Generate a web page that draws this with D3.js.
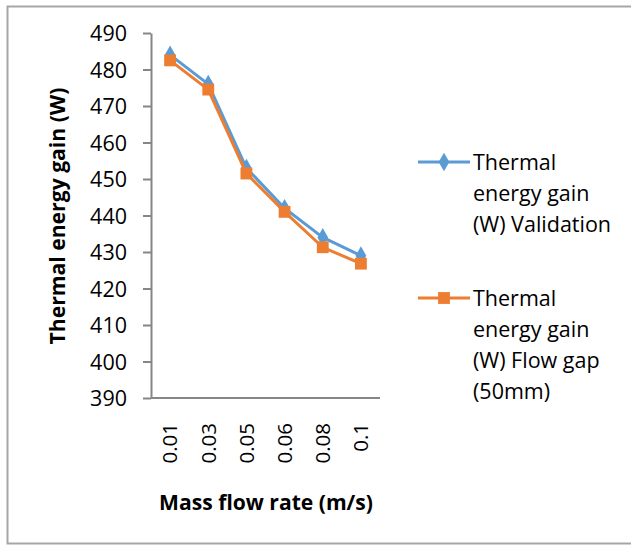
<!DOCTYPE html>
<html>
<head>
  <meta charset="UTF-8">
  <title></title>
  <style>
    body{
      margin: 0;
      background-color: #fff;
      font-family: 'Open Sans', sans-serif;
    }
    .axis path, .axis line{
      stroke: #868686;
      stroke-width: 2px;
    }
    text{
      font-family: 'Open Sans', sans-serif;
      fill: #000;
    }
  </style>
</head>
<body>
  <div id="container"></div>

  <script src="https://d3js.org/d3.v7.min.js"></script>
  <script>

    var rates = ["0.01", "0.03", "0.05", "0.06", "0.08", "0.1"];
    var validation = [484, 476, 453, 442, 434, 429];
    var flowGap = [482.5, 474.5, 451.5, 441, 431.3, 426.8];
    var yTicks = [390, 400, 410, 420, 430, 440, 450, 460, 470, 480, 490];
    var legendValidation = ["Thermal", "energy gain", "(W) Validation"];
    var legendFlowGap = ["Thermal", "energy gain", "(W) Flow gap", "(50mm)"];

    var blue = "#5B9BD5", orange = "#ED7D31";

    var svg = d3.select("#container").append("svg")
      .attr("width", 631)
      .attr("height", 546);

    // squeeze or grow a text's font size until it is the wanted length
    function fitText(sel, target) {
      var fs = parseFloat(sel.style("font-size"));
      var len = sel.node().getComputedTextLength();
      sel.style("font-size", (fs * target / len) + "px");
    }

    // frame round the chart
    svg.append("rect")
      .attr("x", 7.5).attr("y", 6.5)
      .attr("width", 640).attr("height", 537)
      .attr("fill", "none")
      .attr("stroke", "#a6a6a6")
      .attr("stroke-width", 2);

    var x = d3.scaleBand().domain(rates).range([151, 380]).padding(0);
    var y = d3.scaleLinear().domain([390, 490]).range([398, 33]);

    // y axis
    svg.append("g")
      .attr("class", "axis")
      .attr("transform", "translate(151,0)")
      .call(d3.axisLeft(y).tickValues(yTicks).tickSize(8).tickSizeOuter(0).tickPadding(16))
      .selectAll("text")
        .attr("dy", "0.36em")
        .style("font-size", "21.5px")
        .style("font-family", "'Open Sans', sans-serif")
        .attr("fill", "#000");

    // x axis line, no ticks
    svg.append("line")
      .attr("x1", 151).attr("x2", 380)
      .attr("y1", y(390)).attr("y2", y(390))
      .attr("stroke", "#868686").attr("stroke-width", 2);

    // rotated category labels
    svg.append("g").selectAll("text")
      .data(rates).enter().append("text")
      .attr("transform", function(d) {
        return "translate(" + (x(d) + x.bandwidth() / 2) + ",423) rotate(-90)";
      })
      .attr("text-anchor", "end")
      .attr("dy", "0.36em")
      .style("font-size", "20.5px")
      .text(function(d) { return d; });

    // axis titles
    var yTitle = svg.append("text")
      .attr("transform", "translate(58,216) rotate(-90)")
      .attr("text-anchor", "middle")
      .attr("dy", "0.35em")
      .style("font-size", "20px")
      .style("font-weight", "bold")
      .text("Thermal energy gain (W)");
    fitText(yTitle, 257);

    var xTitle = svg.append("text")
      .attr("x", 266).attr("y", 503)
      .attr("text-anchor", "middle")
      .attr("dy", "0.35em")
      .style("font-size", "20px")
      .style("font-weight", "bold")
      .text("Mass flow rate (m/s)");
    fitText(xTitle, 214);

    var line = d3.line()
      .x(function(d, i) { return x(rates[i]) + x.bandwidth() / 2; })
      .y(function(d) { return y(d); });

    var diamond = d3.symbol().type(d3.symbolDiamond).size(100);
    var square = d3.symbol().type(d3.symbolSquare).size(140);

    function drawSeries(values, color, sym) {
      svg.append("path")
        .datum(values)
        .attr("d", line)
        .attr("fill", "none")
        .attr("stroke", color)
        .attr("stroke-width", 3)
        .attr("stroke-linejoin", "round");
      svg.append("g").selectAll("path")
        .data(values).enter().append("path")
        .attr("d", sym)
        .attr("transform", function(d, i) {
          return "translate(" + (x(rates[i]) + x.bandwidth() / 2) + "," + y(d) + ")";
        })
        .attr("fill", color);
    }

    drawSeries(validation, blue, diamond);
    drawSeries(flowGap, orange, square);

    // legend
    function legendEntry(lines, color, sym, cy) {
      var g = svg.append("g");
      g.append("line")
        .attr("x1", 418).attr("x2", 470)
        .attr("y1", cy).attr("y2", cy)
        .attr("stroke", color).attr("stroke-width", 3);
      g.append("path")
        .attr("d", sym)
        .attr("transform", "translate(444," + cy + ")")
        .attr("fill", color);
      g.selectAll("text")
        .data(lines).enter().append("text")
        .attr("x", 473)
        .attr("y", function(d, i) { return cy + i * 31; })
        .attr("dy", "0.35em")
        .style("font-size", "21.5px")
        .text(function(d) { return d; });
    }

    legendEntry(legendValidation, blue, diamond, 162);
    legendEntry(legendFlowGap, orange, square, 298);

  </script>
</body>
</html>
